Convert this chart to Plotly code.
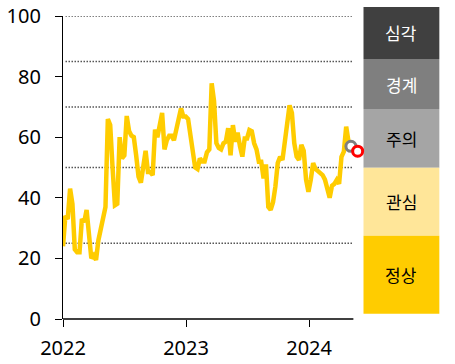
import pandas as pd
import plotly.graph_objects as go

# weekly index values
values = [
    24, 34, 33, 43, 38, 23, 22, 22, 33, 32,
    36, 28, 20, 21, 19.5, 26, 30, 33, 37, 66,
    64, 50, 37.5, 38, 60, 53, 54, 67, 62, 60.5,
    60, 54, 47, 45, 50, 55.5, 48.5, 48.5, 47.5, 62.5,
    60, 65, 68, 56, 59, 60.5, 60.5, 59, 63, 67,
    69.5, 66.8, 66.8, 66, 61, 54, 50, 49.5, 53, 52,
    52, 55, 56, 77.8, 72, 58, 56.5, 56, 58, 58.5,
    63, 54, 64, 58.5, 61.5, 57, 53.6, 59.6, 59.6, 62.4,
    62, 58, 56, 51.9, 51.9, 46.4, 51, 37, 36, 38.5,
    43.7, 51.5, 53.5, 52.5, 59, 65, 70.5, 68, 58, 53.6,
    52.5, 57.5, 55.5, 46, 42, 46, 51.5, 49.5, 48.8, 48.4,
    47.5, 46, 43.5, 40, 44, 44.6, 45.9, 44.6, 53.5, 55.2,
    63.5, 58.5, 57,
]
dates = pd.date_range("2022-01-01", periods=len(values), freq="7D")

last_date = dates[-1]
last_value = values[-1]
latest_date = pd.Timestamp("2024-05-24")
latest_value = 55.4

thresholds = [100, 85, 70, 50, 25]
stage_labels = ["심각", "경계", "주의", "관심", "정상"]
stage_colors = ["#404040", "#7f7f7f", "#a5a5a5", "#ffe699", "#ffcc00"]
stage_text_colors = ["white", "white", "black", "black", "black"]
# box edges (paper units) for the stage legend column
stage_edges = [1.030, 0.858, 0.693, 0.499, 0.275, 0.0175]

year_ticks = ["2022-01-01", "2023-01-01", "2024-01-01"]
year_labels = ["2022", "2023", "2024"]

fig = go.Figure()
fig.add_trace(go.Scatter(
    x=dates, y=values, mode="lines",
    line=dict(color="#ffcc00", width=4.5),
    showlegend=False, hoverinfo="x+y",
))
fig.add_trace(go.Scatter(
    x=[last_date], y=[last_value], mode="markers",
    marker=dict(symbol="circle", size=10, color="white",
                line=dict(color="#7f7f7f", width=3)),
    cliponaxis=False, showlegend=False,
))
fig.add_trace(go.Scatter(
    x=[latest_date], y=[latest_value], mode="markers",
    marker=dict(symbol="circle", size=10, color="white",
                line=dict(color="#ff0000", width=3)),
    cliponaxis=False, showlegend=False,
))

AXIS_END = 0.981  # visible x-axis line end (paper)
shapes = []
for t in thresholds:
    shapes.append(dict(type="line", xref="paper", yref="y", x0=0.009, x1=0.977,
                       y0=t, y1=t, line=dict(color="black", width=1.5, dash="1px,2px"),
                       layer="below"))
shapes.append(dict(type="line", xref="paper", yref="paper", x0=0, x1=AXIS_END,
                   y0=0, y1=0, line=dict(color="black", width=1.3)))
annotations = []
for i, lab in enumerate(stage_labels):
    y1, y0 = stage_edges[i], stage_edges[i + 1]
    shapes.append(dict(type="rect", xref="paper", yref="paper",
                       x0=1.0152, x1=1.2714, y0=y0, y1=y1,
                       fillcolor=stage_colors[i], line=dict(width=0), layer="below"))
    annotations.append(dict(xref="paper", yref="paper", x=1.1431, y=(y0 + y1) / 2,
                            xanchor="center", yanchor="middle",
                            text=lab, showarrow=False,
                            font=dict(family="Noto Sans CJK KR", size=17,
                                      color=stage_text_colors[i])))

fig.update_layout(
    width=455, height=364,
    margin=dict(l=63, r=96, t=16, b=45, autoexpand=False),
    plot_bgcolor="white", paper_bgcolor="white",
    font=dict(family="Noto Sans", size=20, color="black"),
    shapes=shapes, annotations=annotations,
    xaxis=dict(range=["2022-01-01", "2024-05-28"], tickvals=year_ticks, ticktext=year_labels,
               showgrid=False, zeroline=False, showline=False,
               ticks="outside", ticklen=7, tickcolor="black", tickwidth=1.3, automargin=False,
               ticklabelstandoff=4, tickfont=dict(size=20)),
    yaxis=dict(range=[0, 100], tickvals=[0, 20, 40, 60, 80, 100],
               showgrid=False, zeroline=False, showline=True, linecolor="black", linewidth=1.3,
               ticks="outside", ticklen=7, tickcolor="black", tickwidth=1.3, automargin=False,
               ticklabelstandoff=10, tickfont=dict(size=20)),
)

fig.write_html("out.html", config={"displayModeBar": False},
               post_script="document.body.style.margin='0';")
